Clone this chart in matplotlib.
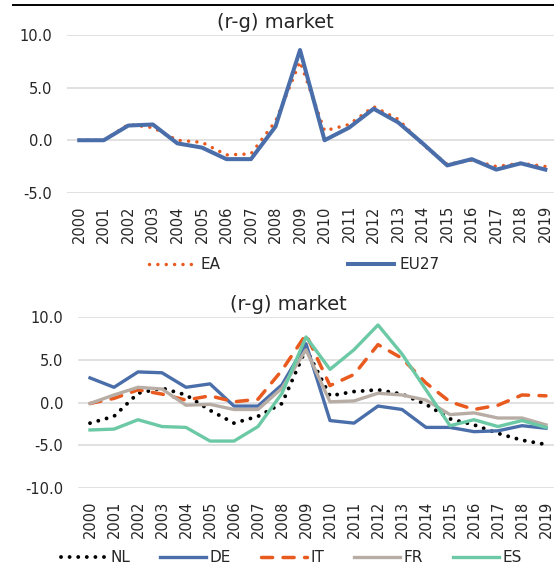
import matplotlib.pyplot as plt
from matplotlib.lines import Line2D

# (r-g) market values
years = [str(y) for y in range(2000, 2020)]

ea = [0.0, 0.0, 1.5, 1.2, 0.0, -0.2, -1.4, -1.3, 1.8, 7.5,
      0.9, 1.5, 3.2, 2.0, -0.4, -2.3, -1.9, -2.5, -2.2, -2.5]
eu27 = [0.0, 0.0, 1.4, 1.5, -0.3, -0.7, -1.8, -1.8, 1.3, 8.6,
        0.0, 1.2, 3.0, 1.7, -0.3, -2.4, -1.8, -2.8, -2.2, -2.8]

nl = [-2.4, -1.6, 1.1, 1.7, 0.9, -0.9, -2.4, -1.6, -0.1, 6.3,
      0.8, 1.3, 1.5, 1.0, -0.2, -1.9, -2.6, -3.6, -4.4, -4.9]
de = [2.9, 1.8, 3.6, 3.5, 1.8, 2.2, -0.4, -0.4, 2.1, 6.9,
      -2.1, -2.4, -0.4, -0.8, -2.9, -2.9, -3.4, -3.3, -2.7, -3.0]
it = [-0.1, 0.5, 1.5, 1.0, 0.3, 0.8, 0.1, 0.4, 3.8, 8.0,
      2.0, 3.3, 6.8, 5.2, 2.3, 0.1, -0.8, -0.3, 0.9, 0.8]
fr = [-0.1, 0.9, 1.8, 1.6, -0.3, -0.2, -0.8, -0.8, 1.7, 6.2,
      0.1, 0.2, 1.1, 0.9, 0.3, -1.4, -1.2, -1.8, -1.8, -2.6]
es = [-3.2, -3.1, -2.0, -2.8, -2.9, -4.5, -4.5, -2.8, 1.1, 7.7,
      3.9, 6.2, 9.1, 5.7, 1.5, -2.7, -2.0, -2.8, -2.1, -2.9]

orange = '#E95A1F'
blue = '#4A6EAA'
taupe = '#B8ADA5'
green = '#6CC9A5'
text_col = '#262626'
grid_col = '#D9D9D9'

fig = plt.figure(figsize=(5.54, 5.67), dpi=100)

# black rule across the top of the picture
fig.add_artist(Line2D([13 / 554, 1.0], [1 - 4.7 / 567] * 2, color='black', lw=1.4))


def style_axes(ax, ylim, yticks):
    ax.set_xlim(-0.5, len(years) - 0.5)
    ax.set_ylim(*ylim)
    ax.set_yticks(yticks)
    ax.set_yticklabels([f'{t:.1f}' for t in yticks])
    ax.set_xticks(range(len(years)))
    ax.set_xticklabels(years, rotation=90)
    ax.tick_params(axis='y', length=0, pad=10.5, labelsize=10.5, labelcolor=text_col)
    ax.tick_params(axis='x', length=0, pad=9, labelsize=10.5, labelcolor=text_col)
    for s in ax.spines.values():
        s.set_visible(False)
    ax.grid(axis='y', color=grid_col, lw=1.1)
    ax.set_axisbelow(True)


# top chart: EA vs EU27
ax1 = fig.add_axes([67 / 554, 1 - 192.7 / 567, 490.6 / 554, 157.4 / 567])
x = range(len(years))
ax1.plot(x, ea, color=orange, lw=2.5, linestyle=(0, (0.01, 2.4)),
         dash_capstyle='round', label='EA')
ax1.plot(x, eu27, color=blue, lw=2.9, solid_joinstyle='round', label='EU27')
style_axes(ax1, (-5, 10), [-5, 0, 5, 10])
fig.text(275.6 / 554, 1 - 23 / 567, '(r-g) market', ha='center', va='center',
         fontsize=14, color=text_col)
fig.legend(*ax1.get_legend_handles_labels(), loc='center left',
           bbox_to_anchor=(149 / 554, 1 - 265 / 567), ncol=2, frameon=False,
           fontsize=11, handlelength=3.0, handletextpad=0.4, columnspacing=8.3,
           borderpad=0, borderaxespad=0, labelcolor=text_col)

# bottom chart: countries
ax2 = fig.add_axes([78 / 554, 1 - 488 / 567, 480 / 554, 170.7 / 567])
ax2.plot(x, nl, color='black', lw=2.8, linestyle=(0, (0.01, 2.2)),
         dash_capstyle='round', label='NL')
ax2.plot(x, de, color=blue, lw=2.4, solid_joinstyle='round', label='DE')
ax2.plot(x, it, color=orange, lw=2.5, linestyle=(0, (3.2, 3.0)),
         dash_capstyle='round', label='IT')
ax2.plot(x, fr, color=taupe, lw=2.4, solid_joinstyle='round', label='FR')
ax2.plot(x, es, color=green, lw=2.4, solid_joinstyle='round', label='ES')
style_axes(ax2, (-10, 10), [-10, -5, 0, 5, 10])
fig.text(288 / 554, 1 - 304 / 567, '(r-g) market', ha='center', va='center',
         fontsize=14, color=text_col)
fig.legend(*ax2.get_legend_handles_labels(), loc='center left',
           bbox_to_anchor=(60.8 / 554, 1 - 558 / 567), ncol=5, frameon=False,
           fontsize=11, handlelength=3.0, handletextpad=0.25, columnspacing=1.95,
           borderpad=0, borderaxespad=0, labelcolor=text_col)

fig.savefig('out.png', dpi=100)
